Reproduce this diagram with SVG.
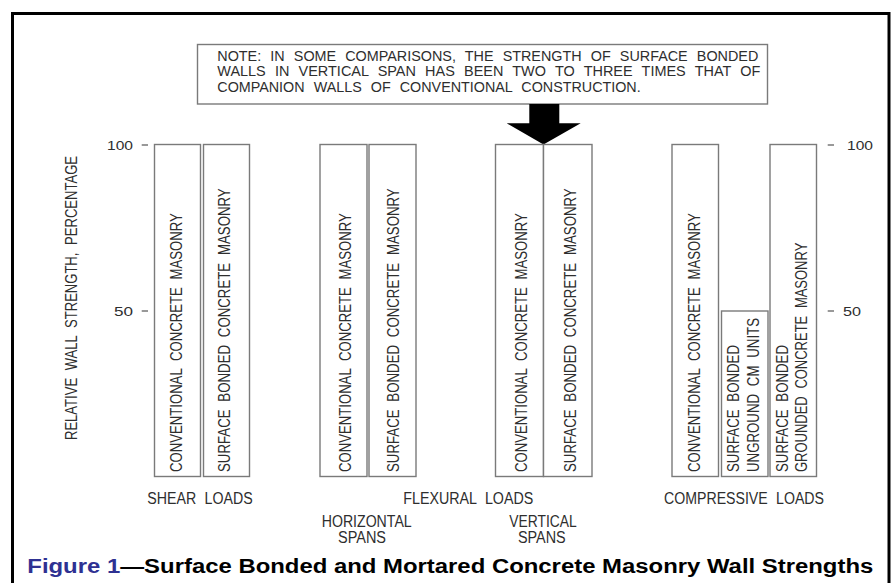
<svg xmlns="http://www.w3.org/2000/svg" width="894" height="583" viewBox="0 0 894 583">
<style>
.t{font-family:"Liberation Sans",Arial,sans-serif;fill:#2e2e2e;word-spacing:5px}
.bl{font-size:16px}
.ax{font-size:13px}
.nt{font-size:14px}
.bar{fill:#fff;stroke:#7a7a7a;stroke-width:1.4}
.tick{stroke:#555;stroke-width:1.2}
.cap{font-family:"Liberation Sans",Arial,sans-serif;font-weight:bold;font-size:20px;fill:#000}
</style>
<rect width="894" height="583" fill="#fff"/>
<rect x="12.5" y="13.5" width="876.5" height="590" fill="none" stroke="#000" stroke-width="3"/>

<g id="note">
<rect x="197.5" y="44.5" width="570" height="59.5" fill="#fff" stroke="#7a7a7a" stroke-width="1.4"/>
<text class="t nt" x="217.3" y="60.7" textLength="541" lengthAdjust="spacingAndGlyphs">NOTE: IN SOME COMPARISONS, THE STRENGTH OF SURFACE BONDED</text>
<text class="t nt" x="217.3" y="76.2" textLength="543" lengthAdjust="spacingAndGlyphs">WALLS IN VERTICAL SPAN HAS BEEN TWO TO THREE TIMES THAT OF</text>
<text class="t nt" x="217.3" y="92.2" textLength="423.4" lengthAdjust="spacingAndGlyphs">COMPANION WALLS OF CONVENTIONAL CONSTRUCTION.</text>
</g>

<g id="connectors">
<polygon points="529.3,104 559.3,104 559.3,123.3 580.7,123.3 543.5,144.5 506.7,123.3 529.3,123.3" fill="#000"/>
</g>

<g id="axis-left">
<text class="t" font-size="16" transform="translate(76.5,440) rotate(-90)" textLength="284" lengthAdjust="spacingAndGlyphs">RELATIVE WALL STRENGTH, PERCENTAGE</text>
<text class="t ax" x="107" y="150" textLength="26" lengthAdjust="spacingAndGlyphs">100</text>
<text class="t ax" x="114" y="316" textLength="19" lengthAdjust="spacingAndGlyphs">50</text>
<line class="tick" x1="141.7" y1="145" x2="148" y2="145"/>
<line class="tick" x1="141.7" y1="311" x2="148" y2="311"/>
</g>

<g id="axis-right">
<line class="tick" x1="827.7" y1="145" x2="834" y2="145"/>
<line class="tick" x1="827.7" y1="311" x2="834" y2="311"/>
<text class="t ax" x="847" y="150" textLength="26" lengthAdjust="spacingAndGlyphs">100</text>
<text class="t ax" x="843" y="316" textLength="18" lengthAdjust="spacingAndGlyphs">50</text>
</g>

<g id="shear-conventional">
<rect class="bar" x="154.5" y="144.5" width="46" height="332"/>
<text class="t bl" transform="translate(181.7,472) rotate(-90)" textLength="258.7" lengthAdjust="spacingAndGlyphs">CONVENTIONAL CONCRETE MASONRY</text>
</g>
<g id="shear-surface">
<rect class="bar" x="203.5" y="144.5" width="46" height="332"/>
<text class="t bl" transform="translate(230,472) rotate(-90)" textLength="283.7" lengthAdjust="spacingAndGlyphs">SURFACE BONDED CONCRETE MASONRY</text>
</g>

<g id="horizontal-conventional">
<rect class="bar" x="320" y="144.5" width="47" height="332"/>
<text class="t bl" transform="translate(350.8,472) rotate(-90)" textLength="258.7" lengthAdjust="spacingAndGlyphs">CONVENTIONAL CONCRETE MASONRY</text>
</g>
<g id="horizontal-surface">
<rect class="bar" x="369" y="144.5" width="47" height="332"/>
<text class="t bl" transform="translate(399.4,472) rotate(-90)" textLength="283.7" lengthAdjust="spacingAndGlyphs">SURFACE BONDED CONCRETE MASONRY</text>
</g>

<g id="vertical-conventional">
<rect class="bar" x="495.5" y="144.5" width="48" height="332"/>
<text class="t bl" transform="translate(527.4,472) rotate(-90)" textLength="258.7" lengthAdjust="spacingAndGlyphs">CONVENTIONAL CONCRETE MASONRY</text>
</g>
<g id="vertical-surface">
<rect class="bar" x="543.5" y="144.5" width="48.5" height="332"/>
<text class="t bl" transform="translate(576,472) rotate(-90)" textLength="283.7" lengthAdjust="spacingAndGlyphs">SURFACE BONDED CONCRETE MASONRY</text>
</g>

<g id="compressive-conventional">
<rect class="bar" x="672" y="144.5" width="46.5" height="332"/>
<text class="t bl" transform="translate(700,472) rotate(-90)" textLength="258.7" lengthAdjust="spacingAndGlyphs">CONVENTIONAL CONCRETE MASONRY</text>
</g>
<g id="compressive-unground">
<rect class="bar" x="721.5" y="311" width="46.5" height="165.5"/>
<text class="t bl" transform="translate(739.4,472) rotate(-90)" textLength="127" lengthAdjust="spacingAndGlyphs">SURFACE BONDED</text>
<text class="t bl" transform="translate(759.4,472) rotate(-90)" textLength="154" lengthAdjust="spacingAndGlyphs">UNGROUND CM UNITS</text>
</g>
<g id="compressive-grounded">
<rect class="bar" x="770" y="144.5" width="46.5" height="332"/>
<text class="t bl" transform="translate(788,472) rotate(-90)" textLength="127" lengthAdjust="spacingAndGlyphs">SURFACE BONDED</text>
<text class="t bl" transform="translate(806.8,472) rotate(-90)" textLength="229.3" lengthAdjust="spacingAndGlyphs">GROUNDED CONCRETE MASONRY</text>
</g>

<g id="labels">
<text class="t bl" x="147.3" y="504" textLength="105.4" lengthAdjust="spacingAndGlyphs">SHEAR LOADS</text>
<text class="t bl" x="403.3" y="504" textLength="130" lengthAdjust="spacingAndGlyphs">FLEXURAL LOADS</text>
<text class="t bl" x="664" y="504" textLength="160" lengthAdjust="spacingAndGlyphs">COMPRESSIVE LOADS</text>
<text class="t bl" x="321.7" y="526.7" textLength="90" lengthAdjust="spacingAndGlyphs">HORIZONTAL</text>
<text class="t bl" x="338" y="543" textLength="48" lengthAdjust="spacingAndGlyphs">SPANS</text>
<text class="t bl" x="509.3" y="526.7" textLength="67.4" lengthAdjust="spacingAndGlyphs">VERTICAL</text>
<text class="t bl" x="518" y="543" textLength="47.7" lengthAdjust="spacingAndGlyphs">SPANS</text>
</g>

<g id="caption">
<text class="cap" x="27.3" y="573.3" textLength="846" lengthAdjust="spacingAndGlyphs"><tspan fill="#2e3192">Figure 1</tspan>—Surface Bonded and Mortared Concrete Masonry Wall Strengths</text>
</g>
</svg>
